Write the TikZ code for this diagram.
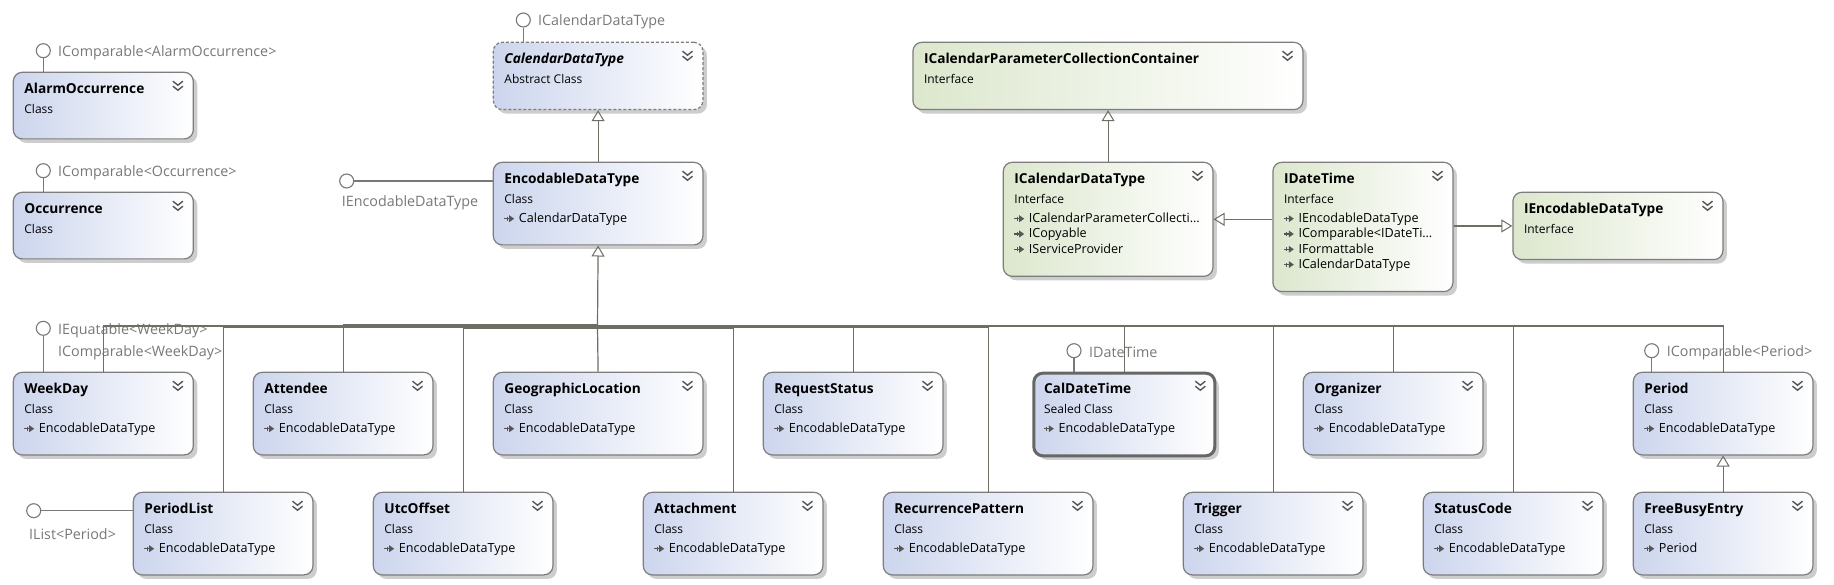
\documentclass[tikz,border=0pt]{standalone}
\usepackage{fontspec}
\setmainfont{Open Sans}
\usetikzlibrary{arrows.meta,shadows}
\definecolor{clsL}{RGB}{204,213,237}
\definecolor{ifcL}{RGB}{220,231,205}
\definecolor{bord}{RGB}{125,125,125}
\definecolor{connc}{RGB}{110,110,100}
\definecolor{lblc}{RGB}{120,120,120}
\definecolor{shad}{RGB}{205,205,205}
\definecolor{chevc}{RGB}{85,85,85}
\tikzset{
  box/.style={draw=bord, line width=1.2pt, rounded corners=9pt, inner sep=0pt,
    drop shadow={shadow xshift=4pt, shadow yshift=-4pt, fill=shad, opacity=1}},
  cls/.style={box, left color=clsL, right color=white},
  ifc/.style={box, left color=ifcL, right color=white},
  abstractbox/.style={dash pattern=on 3pt off 2pt},
  sealedbox/.style={line width=3pt, draw=black!60},
  titletext/.style={anchor=base west, inner sep=0pt, font=\fontsize{13.7}{15}\selectfont\bfseries},
  kindtext/.style={anchor=base west, inner sep=0pt, font=\fontsize{12}{14}\selectfont},
  itemtext/.style={anchor=base west, inner sep=0pt, font=\fontsize{12.6}{14}\selectfont},
  lbltext/.style={anchor=west, inner sep=0pt, text=lblc, font=\fontsize{14.3}{16}\selectfont},
  chevst/.style={draw=chevc, line width=1.4pt},
  conn/.style={draw=connc, line width=1.2pt},
  inh/.style={conn, -{Triangle[open, length=11pt, width=13pt, line width=1pt]}},
  lol/.style={circle, draw=lblc, fill=white, line width=1.1pt, minimum size=14pt, inner sep=0pt},
  lolline/.style={draw=lblc, line width=1.2pt},
}
% name, x1, y1, x2, y2, style, title, kind
\newcommand\umlbox[8]{%
  \node[#6, minimum width={#4-#2}, minimum height={#5-#3}, anchor=north west] (#1) at (#2,-#3) {};
  \node[titletext] (#1-t) at (#2+11.5,-#3-21.5) {#7};
  \node[kindtext] (#1-k) at (#2+11.5,-#3-41.5) {#8};
  \draw[chevst] ([shift={(-21,-9.5)}]#1.north east) -- ([shift={(-16,-13.5)}]#1.north east) -- ([shift={(-11,-9.5)}]#1.north east);
  \draw[chevst] ([shift={(-21,-14.5)}]#1.north east) -- ([shift={(-16,-18.5)}]#1.north east) -- ([shift={(-11,-14.5)}]#1.north east);
}
% name, x1, y1, list
\newcommand\umlitems[4]{%
  \foreach \itm [count=\i] in {#4} {
    \pgfmathsetmacro\yb{-#3-61-15.3*(\i-1)}
    \draw[draw=chevc, line width=1.5pt] (#2+11.5,\yb+4) -- (#2+17.5,\yb+4);
    \fill[chevc] (#2+16.5,\yb+7.5) -- (#2+21.5,\yb+4) -- (#2+16.5,\yb+0.5) -- cycle;
    \draw[draw=chevc, line width=1pt] (#2+14.5,\yb+6) -- (#2+14.5,\yb+2);
    \node[itemtext] at (#2+26,\yb) {\itm};
  }
}
% name, x, y, box
\newcommand\lolliv[4]{%
  \node[lol] (#1) at (#2,-#3) {};
  \draw[lolline] (#1.south) -- (#1.south |- #4.north);
}
\begin{document}
\begin{tikzpicture}[x=1pt,y=1pt]
\useasboundingbox[fill=white] (0,0) rectangle (1834,-585);

% top-left classes
\umlbox{alarm}{12.7}{71.7}{192.7}{138.3}{cls}{AlarmOccurrence}{Class}
\umlbox{occ}{12.7}{191.7}{192.7}{258.3}{cls}{Occurrence}{Class}
\lolliv{lalarm}{43.3}{50.7}{alarm}
\node[lbltext] (lalarm-t) at (58,-52.5) {IComparable<AlarmOccurrence>};
\lolliv{locc}{43.3}{170.7}{occ}
\node[lbltext] (locc-t) at (58,-172.5) {IComparable<Occurrence>};

% calendar data types
\umlbox{cdt}{492.7}{41.7}{702.3}{109}{cls,abstractbox}{\textit{CalendarDataType}}{Abstract Class}
\lolliv{lcdt}{523.3}{20}{cdt}
\node[lbltext] (lcdt-t) at (538,-22) {ICalendarDataType};
\umlbox{enc}{492.7}{161.7}{702.3}{244.3}{cls}{EncodableDataType}{Class}
\umlitems{enc}{492.7}{161.7}{CalendarDataType}
\node[lol] (lenc) at (346.7,-181) {};
\draw[lolline] (lenc.east) -- (lenc.east -| enc.west);
\node[lbltext] (lenc-t) at (341.7,-203) {IEncodableDataType};
\draw[inh] (enc.north) -- (cdt.south);

% interfaces
\umlbox{icpcc}{912.3}{41.7}{1302.3}{109}{ifc}{ICalendarParameterCollectionContainer}{Interface}
\umlbox{icdt}{1002.7}{161.7}{1212.3}{275.7}{ifc}{ICalendarDataType}{Interface}
\umlitems{icdt}{1002.7}{161.7}{ICalendarParameterCollecti\ldots,ICopyable,IServiceProvider}
\umlbox{idt}{1272.3}{161.7}{1452.3}{291}{ifc}{IDateTime}{Interface}
\umlitems{idt}{1272.3}{161.7}{IEncodableDataType,IComparable<IDateTi\ldots,IFormattable,ICalendarDataType}
\umlbox{ienc}{1512.3}{191.7}{1722.3}{259}{ifc}{IEncodableDataType}{Interface}
\draw[inh] (icdt.north) -- (icdt.north |- icpcc.south);
\draw[inh] (idt.west |- icdt.east) -- (icdt.east);
\draw[inh] (idt.east |- ienc.west) -- (ienc.west);

% row 2
\umlbox{weekday}{12.7}{371.7}{192.7}{454.3}{cls}{WeekDay}{Class}
\umlitems{weekday}{12.7}{371.7}{EncodableDataType}
\umlbox{attendee}{252.7}{371.7}{432.3}{454.3}{cls}{Attendee}{Class}
\umlitems{attendee}{252.7}{371.7}{EncodableDataType}
\umlbox{geo}{492.7}{371.7}{702.3}{454.3}{cls}{GeographicLocation}{Class}
\umlitems{geo}{492.7}{371.7}{EncodableDataType}
\umlbox{reqst}{762.7}{371.7}{942.3}{454.3}{cls}{RequestStatus}{Class}
\umlitems{reqst}{762.7}{371.7}{EncodableDataType}
\umlbox{caldt}{1032.3}{371.7}{1213.3}{454.3}{cls,sealedbox}{CalDateTime}{Sealed Class}
\umlitems{caldt}{1032.3}{371.7}{EncodableDataType}
\umlbox{org}{1302.7}{371.7}{1482.3}{454.3}{cls}{Organizer}{Class}
\umlitems{org}{1302.7}{371.7}{EncodableDataType}
\umlbox{period}{1632.7}{371.7}{1812.3}{454.3}{cls}{Period}{Class}
\umlitems{period}{1632.7}{371.7}{EncodableDataType}

% row 3
\umlbox{plist}{132.7}{491.7}{312.3}{574.3}{cls}{PeriodList}{Class}
\umlitems{plist}{132.7}{491.7}{EncodableDataType}
\umlbox{utc}{372.7}{491.7}{552.3}{574.3}{cls}{UtcOffset}{Class}
\umlitems{utc}{372.7}{491.7}{EncodableDataType}
\umlbox{attach}{642.7}{491.7}{822.3}{574.3}{cls}{Attachment}{Class}
\umlitems{attach}{642.7}{491.7}{EncodableDataType}
\umlbox{recur}{882.7}{491.7}{1092.3}{574.3}{cls}{RecurrencePattern}{Class}
\umlitems{recur}{882.7}{491.7}{EncodableDataType}
\umlbox{trig}{1182.7}{491.7}{1362.3}{574.3}{cls}{Trigger}{Class}
\umlitems{trig}{1182.7}{491.7}{EncodableDataType}
\umlbox{stcode}{1422.7}{491.7}{1602.3}{574.3}{cls}{StatusCode}{Class}
\umlitems{stcode}{1422.7}{491.7}{EncodableDataType}
\umlbox{fbe}{1632.7}{491.7}{1812.3}{574.3}{cls}{FreeBusyEntry}{Class}
\umlitems{fbe}{1632.7}{491.7}{Period}
\draw[inh] (fbe.north) -- (period.south);

% lollipops row 2/3
\lolliv{lwd}{43.3}{328.3}{weekday}
\node[lbltext] (lwd-t1) at (58,-331) {IEquatable<WeekDay>};
\node[lbltext] (lwd-t2) at (58,-352.7) {IComparable<WeekDay>};
\lolliv{lcal}{1074}{350.7}{caldt}
\node[lbltext] (lcal-t) at (1089,-352.7) {IDateTime};
\lolliv{lper}{1651.7}{350.7}{period}
\node[lbltext] (lper-t) at (1666.7,-352.7) {IComparable<Period>};
\node[lol] (lpl) at (33.7,-510.7) {};
\draw[lolline] (lpl.east) -- (lpl.east -| plist.west);
\node[lbltext] (lpl-t) at (29,-534) {IList<Period>};

% inheritance bus
\coordinate (bus) at (597.5,-326.7);
\draw[conn] (weekday.north) |- ([yshift=0.7]bus);
\draw[conn] (plist.north) |- ([yshift=-0.6]bus);
\draw[conn] (attendee.north) |- ([yshift=2]bus);
\draw[conn] (utc.north) |- ([yshift=-2]bus);
\draw[conn] (geo.north) -- (bus);
\draw[conn] (attach.north) |- ([yshift=-1.3]bus);
\draw[conn] (reqst.north) |- ([yshift=-0.3]bus);
\draw[conn] (recur.north) |- ([yshift=-0.3]bus);
\draw[conn] (caldt.north) |- ([yshift=0.2]bus);
\draw[conn] (trig.north) |- ([yshift=0.2]bus);
\draw[conn] (org.north) |- ([yshift=0.7]bus);
\draw[conn] (stcode.north) |- ([yshift=0.7]bus);
\draw[conn] (period.north) |- ([yshift=0.7]bus);
\draw[inh] (bus) -- (enc.south);
\end{tikzpicture}
\end{document}
